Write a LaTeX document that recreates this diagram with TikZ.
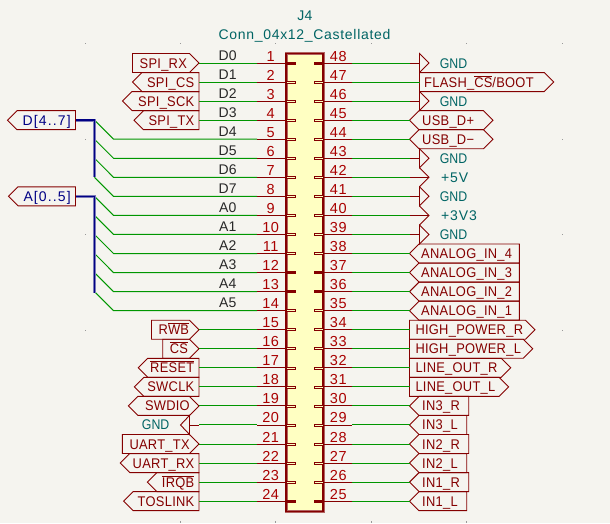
\documentclass[tikz,border=0pt]{standalone}
\usepackage{fontspec}
\setmainfont[LetterSpace=2]{Liberation Sans}
\newfontfamily\lblf[LetterSpace=2,FakeStretch=0.92]{Liberation Sans}
\newfontfamily\gndf[FakeStretch=0.88]{Liberation Sans}
\definecolor{bgc}{RGB}{245,244,239}
\definecolor{drk}{RGB}{132,0,0}
\definecolor{pinnum}{RGB}{169,0,0}
\definecolor{wirec}{RGB}{0,150,0}
\definecolor{busc}{RGB}{0,0,132}
\definecolor{tealc}{RGB}{0,100,100}
\definecolor{boxc}{RGB}{255,255,194}
\definecolor{namec}{RGB}{40,40,40}
\tikzset{
  lbl/.style={draw=drk,line width=0.9pt,line join=miter},
  wire/.style={draw=wirec,line width=1pt},
  stub/.style={draw=drk,line width=0.9pt},
  bus/.style={draw=busc,line width=1.6pt},
  bushalo/.style={draw=busc!50!bgc,line width=3pt},
  ttext/.style={inner sep=0pt,font=\fontsize{14}{14}\selectfont},
  lbltext/.style={ttext,text=drk,font=\fontsize{14}{14}\lblf},
  numtext/.style={ttext,text=pinnum,font=\fontsize{14.5}{14.5}\selectfont\addfontfeature{LetterSpace=4}},
  nametext/.style={ttext,text=namec},
  powtext/.style={ttext,text=tealc,font=\fontsize{14}{14}\gndf},
  arrtext/.style={ttext,text=tealc,font=\fontsize{14}{14}\selectfont\addfontfeature{LetterSpace=6}},
  bustext/.style={ttext,text=busc,font=\fontsize{14}{14}\selectfont\addfontfeature{LetterSpace=8}},
}
\newcommand{\ovl}[1]{$\overline{\hbox{#1}}$}
\newcommand{\rowy}[1]{\pgfmathsetmacro{\yy}{63+19.05*(#1-1)}}
\newcommand{\rowr}[1]{\pgfmathsetmacro{\yy}{63+19.05*(48-#1)}}
\newcommand{\shpL}[3]{\draw[lbl] (#1,\yy) -- (#1+9.5,\yy-9.5) -- (#2,\yy-9.5) -- (#2,\yy+9.5) -- (#1+9.5,\yy+9.5) -- cycle;}
\newcommand{\shpR}[3]{\draw[lbl] (#1,\yy-9.5) -- (#2-9.5,\yy-9.5) -- (#2,\yy) -- (#2-9.5,\yy+9.5) -- (#1,\yy+9.5) -- cycle;}
\newcommand{\shpB}[3]{\draw[lbl] (#1,\yy) -- (#1+9.5,\yy-9.5) -- (#2-9.5,\yy-9.5) -- (#2,\yy) -- (#2-9.5,\yy+9.5) -- (#1+9.5,\yy+9.5) -- cycle;}
\newcommand{\leftpin}[4]{%
  \rowy{#1}
  \coordinate (pin#1) at (257,\yy);
  \coordinate (end#1) at (199,\yy);
  \csname shp#2\endcsname{#3}{199}{}
  \ifx#2L\node[lbltext,anchor=base east] (lab#1) at (194.5,\yy+5) {#4};\else
  \ifx#2R\node[lbltext,anchor=base west] (lab#1) at (#3+7,\yy+5) {#4};\else
  \node[lbltext,anchor=base west] (lab#1) at (#3+16.5,\yy+5) {#4};\fi\fi
  \draw[wire] (end#1) -- (pin#1);
}
\newcommand{\rightpin}[6]{%
  \rowr{#1}
  \coordinate (pin#1) at (352,\yy);
  \coordinate (end#1) at (#3,\yy);
  \csname shp#2\endcsname{#3}{#4}{}
  \node[lbltext,anchor=base west] (lab#1) at (#5,\yy+5) {#6};
  \draw[wire] (pin#1) -- (end#1);
}
\newcommand{\rgnd}[1]{%
  \rowr{#1}
  \coordinate (pin#1) at (352,\yy);
  \coordinate (end#1) at (410,\yy);
  \coordinate (sym#1) at (419.5,\yy);
  \draw[wire] (pin#1) -- (end#1);
  \draw[stub] (end#1) -- (sym#1);
  \draw[lbl] (419.5,\yy-9.5) -- (429,\yy) -- (419.5,\yy+9.5) -- cycle;
  \node[powtext,anchor=base west] (lab#1) at (439.7,\yy+5) {GND};
}
\newcommand{\rarrow}[3]{%
  \rowr{#1}
  \coordinate (pin#1) at (352,\yy);
  \coordinate (end#1) at (410,\yy);
  \coordinate (sym#1) at (429,\yy);
  \draw[wire] (pin#1) -- (end#1);
  \draw[stub] (end#1) -- (sym#1);
  \draw[lbl] (419.5,\yy-9.5) -- (429,\yy) -- (419.5,\yy+9.5);
  \node[arrtext,anchor=base west] (lab#1) at (#3,\yy+5) {#2};
}
\newcommand{\buspin}[1]{%
  \rowy{#1}
  \coordinate (pin#1) at (257,\yy);
  \coordinate (elbow#1) at (113.5,\yy);
  \coordinate (tap#1) at (94.5,\yy-19.05);
  \draw[wire] (pin#1) -- (elbow#1) -- (tap#1);
}
\begin{document}
\begin{tikzpicture}[x=1pt,y=-1pt]
\useasboundingbox (0,0) rectangle (610,523);
\fill[bgc] (0,0) rectangle (610,523);
% grid dots
\foreach \gx/\gy in {85.7/43.3,180.3/43.3,275.3/43.3,371.7/43.3,466.7/43.3,562.3/43.3,85.7/139.3,562.3/139.3,85.7/234.3,180.3/234.3,275.3/234.3,371.7/234.3,562.3/234.3,85.7/330.3,562.3/330.3,180.3/522,275.3/522,371.7/522,466.7/522}
  \fill[black!40] (\gx-0.6,\gy-0.6) rectangle (\gx+0.6,\gy+0.6);
% title
\node[ttext,text=tealc,anchor=base] (ref) at (305,20) {J4};
\node[ttext,text=tealc,anchor=base] (val) at (304.5,39) {\addfontfeature{LetterSpace=5}Conn\_04x12\_Castellated};
% wires on bus rows
\foreach \n in {5,6,7,8,9,10,11,12,13,14} {\buspin{\n}}
\coordinate (busDa) at (75.5,120.15);
\coordinate (busDb) at (94.5,120.15);
\coordinate (busDc) at (94.5,177.3);
\coordinate (busAa) at (75.5,196.35);
\coordinate (busAb) at (94.5,196.35);
\coordinate (busAc) at (94.5,292.5);
\draw[bushalo] (busDa) -- (busDb) -- (busDc);
\draw[bushalo] (busAa) -- (busAb) -- (busAc);
\draw[bus] (busDa) -- (busDb) -- (busDc);
\draw[bus] (busAa) -- (busAb) -- (busAc);
\draw[lbl] (7.5,120.15) -- (17,110.65) -- (75.5,110.65) -- (75.5,129.65) -- (17,129.65) -- cycle;
\node[bustext,anchor=base west] (busD) at (22.5,125.2) {D[4..7]};
\draw[lbl] (8.5,196.35) -- (18,186.85) -- (75.5,186.85) -- (75.5,205.85) -- (18,205.85) -- cycle;
\node[bustext,anchor=base west] (busA) at (23.3,201.4) {A[0..5]};
% left labels
\leftpin{1}{R}{132.5}{SPI\_RX}
\leftpin{2}{L}{132.5}{SPI\_CS}
\leftpin{3}{L}{122.5}{SPI\_SCK}
\leftpin{4}{L}{134}{SPI\_TX}
\leftpin{15}{R}{151.5}{R\ovl{WB}}
\leftpin{16}{R}{162.7}{\ovl{CS}}
\leftpin{17}{L}{138.3}{\ovl{RESET}}
\leftpin{18}{L}{134.3}{SWCLK}
\leftpin{19}{B}{128.3}{SWDIO}
\leftpin{21}{R}{122.3}{UART\_TX}
\leftpin{22}{L}{120.3}{UART\_RX}
\leftpin{23}{L}{147.3}{\ovl{IRQB}}
\leftpin{24}{L}{123.6}{TOSLINK}
% GND on pin 20
\rowy{20}
\coordinate (pin20) at (257,\yy);
\coordinate (end20) at (199,\yy);
\coordinate (sym20) at (189.5,\yy);
\draw[wire] (pin20) -- (end20);
\draw[stub] (end20) -- (sym20);
\draw[lbl] (189.5,\yy-9.5) -- (180.5,\yy) -- (189.5,\yy+9.5) -- cycle;
\node[powtext,anchor=base east] (lab20) at (169.5,\yy+5) {GND};
% right side
\rgnd{48}
\rightpin{47}{R}{419.5}{553.7}{424}{FLASH\_\ovl{CS}/BOOT}
\rgnd{46}
\rightpin{45}{B}{409.5}{493}{422}{USB\_D+}
\rightpin{44}{B}{409.5}{493}{422}{USB\_D\textminus}
\rgnd{43}
\rarrow{42}{+5V}{441}
\rgnd{41}
\rarrow{40}{+3V3}{441}
\rgnd{39}
\rightpin{38}{L}{409.5}{519.3}{421}{ANALOG\_IN\_4}
\rightpin{37}{L}{409.5}{519.3}{421}{ANALOG\_IN\_3}
\rightpin{36}{L}{409.5}{519.3}{421}{ANALOG\_IN\_2}
\rightpin{35}{L}{409.5}{519.3}{421}{ANALOG\_IN\_1}
\rightpin{34}{R}{409.5}{535}{415.3}{HIGH\_POWER\_R}
\rightpin{33}{R}{409.5}{532.7}{415.3}{HIGH\_POWER\_L}
\rightpin{32}{R}{409.5}{510.7}{415.3}{LINE\_OUT\_R}
\rightpin{31}{R}{409.5}{508.7}{415.3}{LINE\_OUT\_L}
\rightpin{30}{L}{409.5}{468.7}{422}{IN3\_R}
\rightpin{29}{L}{409.5}{466.7}{422}{IN3\_L}
\rightpin{28}{L}{409.5}{468.7}{422}{IN2\_R}
\rightpin{27}{L}{409.5}{466.7}{422}{IN2\_L}
\rightpin{26}{L}{409.5}{468.7}{422}{IN1\_R}
\rightpin{25}{L}{409.5}{466.7}{422}{IN1\_L}
% connector body
\draw[draw=drk!60!bgc,line width=3pt,fill=boxc] (286,53.7) rectangle (323,511.7);
\draw[draw=drk,line width=1.4pt] (286,53.7) rectangle (323,511.7);
% pin stubs and numbers
\foreach \n/\nm in {1/D0,2/D1,3/D2,4/D3,5/D4,6/D5,7/D6,8/D7,9/A0,10/A1,11/A2,12/A3,13/A4,14/A5,15/,16/,17/,18/,19/,20/,21/,22/,23/,24/} {
  \rowy{\n}
  \draw[stub] (pin\n) -- (286,\yy);
  \draw[draw=drk,line width=0.6pt,fill=boxc] (286,\yy-1) rectangle (295,\yy+1);
  \node[numtext,anchor=base] (num\n) at (270.7,\yy-2) {\n};
  \node[nametext,anchor=base] (nam\n) at (227.7,\yy-3) {\nm};
}
\foreach \n in {48,47,...,25} {
  \rowr{\n}
  \draw[stub] (pin\n) -- (323,\yy);
  \draw[draw=drk,line width=0.6pt,fill=boxc] (314,\yy-1) rectangle (323,\yy+1);
  \node[numtext,anchor=base] (num\n) at (338.3,\yy-2) {\n};
}
% pins that render solid
\foreach \n in {1,12,13,24} {\rowy{\n}\draw[drk,line width=1.6pt] (286,\yy) -- (295,\yy);}
\foreach \n in {48,37,36,25} {\rowr{\n}\draw[drk,line width=1.6pt] (314,\yy) -- (323,\yy);}
\end{tikzpicture}
\end{document}
